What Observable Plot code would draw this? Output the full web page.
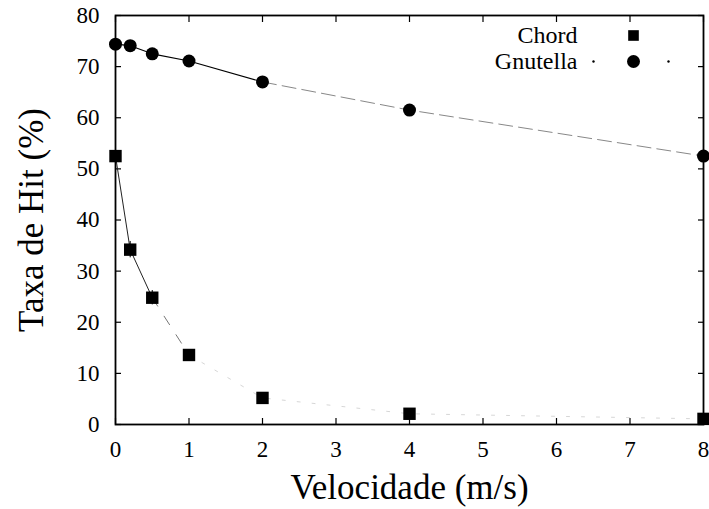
<!DOCTYPE html>
<html>
<head>
<meta charset="utf-8">
<script src="https://cdn.jsdelivr.net/npm/d3@7"></script>
<script src="https://cdn.jsdelivr.net/npm/@observablehq/plot@0.6"></script>
<style>
  body { margin: 0; background: #fff; }
  #chart svg { display: block; }
  #chart svg text { font-family: "Liberation Serif", "DejaVu Serif", serif !important; }
</style>
</head>
<body>
<div id="chart"></div>
<script>
const velocities = [0, 0.2, 0.5, 1, 2, 4, 8];
const chordHit = [52.5, 34.2, 24.8, 13.6, 5.2, 2.1, 1.1];
const chordErr = [1.0, 1.6, 1.4, 1.0, 0.3, 0.3, 0.2];
const gnutellaHit = [74.4, 74.1, 72.5, 71.1, 67.0, 61.5, 52.5];
const xTicks = [0, 1, 2, 3, 4, 5, 6, 7, 8];
const yTicks = [0, 10, 20, 30, 40, 50, 60, 70, 80];
const seriesNames = ["Chord", "Gnutella"];
const xLabel = "Velocidade (m/s)";
const yLabel = "Taxa de Hit (%)";

const chord = velocities.map((v, i) => ({x: v, y: chordHit[i], lo: chordHit[i] - chordErr[i], hi: chordHit[i] + chordErr[i]}));
const gnutella = velocities.map((v, i) => ({x: v, y: gnutellaHit[i]}));

const font = "Liberation Serif";

const chart = Plot.plot({
  width: 709,
  height: 509,
  marginLeft: 115,
  marginRight: 6,
  marginTop: 15,
  marginBottom: 85,
  style: {fontFamily: font, background: "#fff", color: "#000"},
  x: {domain: [0, 8], ticks: xTicks},
  y: {domain: [0, 80], ticks: yTicks},
  marks: [
    // tick labels
    Plot.axisX(xTicks, {tickSize: 0, tickPadding: 16, fontSize: 23, fontFamily: font, label: null}),
    Plot.axisY(yTicks, {tickSize: 0, tickPadding: 16, fontSize: 23, fontFamily: font, label: null}),
    // inward ticks on all four sides
    Plot.axisX(xTicks, {anchor: "bottom", tickSize: -6, tickFormat: () => "", label: null, strokeWidth: 1.2}),
    Plot.axisX(xTicks, {anchor: "top", tickSize: -6, tickFormat: () => "", label: null, strokeWidth: 1.2}),
    Plot.axisY(yTicks, {anchor: "left", tickSize: -6, tickFormat: () => "", label: null, strokeWidth: 1.2}),
    Plot.axisY(yTicks, {anchor: "right", tickSize: -6, tickFormat: () => "", label: null, strokeWidth: 1.2}),
    Plot.frame({stroke: "#000", strokeWidth: 1.8}),
    // axis titles
    Plot.text([xLabel], {frameAnchor: "bottom", dy: 63, fontSize: 35, fontFamily: font, text: d => d, textAnchor: "middle", lineAnchor: "middle"}),
    Plot.text([yLabel], {frameAnchor: "left", dx: -84, fontSize: 35, fontFamily: font, text: d => d, rotate: -90, textAnchor: "middle", lineAnchor: "middle"}),
    // Gnutella line
    Plot.line(gnutella.filter(d => d.x <= 2), {x: "x", y: "y", stroke: "#000", strokeWidth: 1.1}),
    Plot.line(gnutella.filter(d => d.x >= 2), {x: "x", y: "y", stroke: "#888", strokeWidth: 1, strokeDasharray: "14,6"}),
    // Chord line
    Plot.line(chord.filter(d => d.x <= 0.5), {x: "x", y: "y", stroke: "#222", strokeWidth: 1}),
    Plot.line(chord.filter(d => d.x >= 0.5 && d.x <= 1), {x: "x", y: "y", stroke: "#777", strokeWidth: 1, strokeDasharray: "10,12"}),
    Plot.line(chord.filter(d => d.x >= 1), {x: "x", y: "y", stroke: "#ccc", strokeWidth: 0.8, strokeDasharray: "3,12"}),
    // error bars
    Plot.ruleX(chord, {x: "x", y1: "lo", y2: "hi", stroke: "#000", strokeWidth: 1}),
    // markers
    Plot.dot(gnutella, {x: "x", y: "y", r: 6.5, fill: "#000", stroke: "none"}),
    Plot.dot(chord, {x: "x", y: "y", r: 7, symbol: "square", fill: "#000", stroke: "none"}),
    // legend
    Plot.text([seriesNames[0]], {frameAnchor: "top-right", dx: -126, dy: 20, text: d => d, textAnchor: "end", fontSize: 24, fontFamily: font, lineAnchor: "middle"}),
    Plot.text([seriesNames[1]], {frameAnchor: "top-right", dx: -126, dy: 46, text: d => d, textAnchor: "end", fontSize: 24, fontFamily: font, lineAnchor: "middle"}),
    Plot.dot([seriesNames[0]], {frameAnchor: "top-right", dx: -70, dy: 20, r: 6, symbol: "square", fill: "#000", stroke: "none"}),
    Plot.dot([seriesNames[1]], {frameAnchor: "top-right", dx: -70, dy: 46, r: 6.5, fill: "#000", stroke: "none"}),
    Plot.dot([seriesNames[1]], {frameAnchor: "top-right", dx: -110, dy: 46, r: 1.2, fill: "#000", stroke: "none"}),
    Plot.dot([seriesNames[1]], {frameAnchor: "top-right", dx: -35, dy: 46, r: 1.2, fill: "#000", stroke: "none"})
  ]
});
document.getElementById("chart").appendChild(chart);
</script>
</body>
</html>
